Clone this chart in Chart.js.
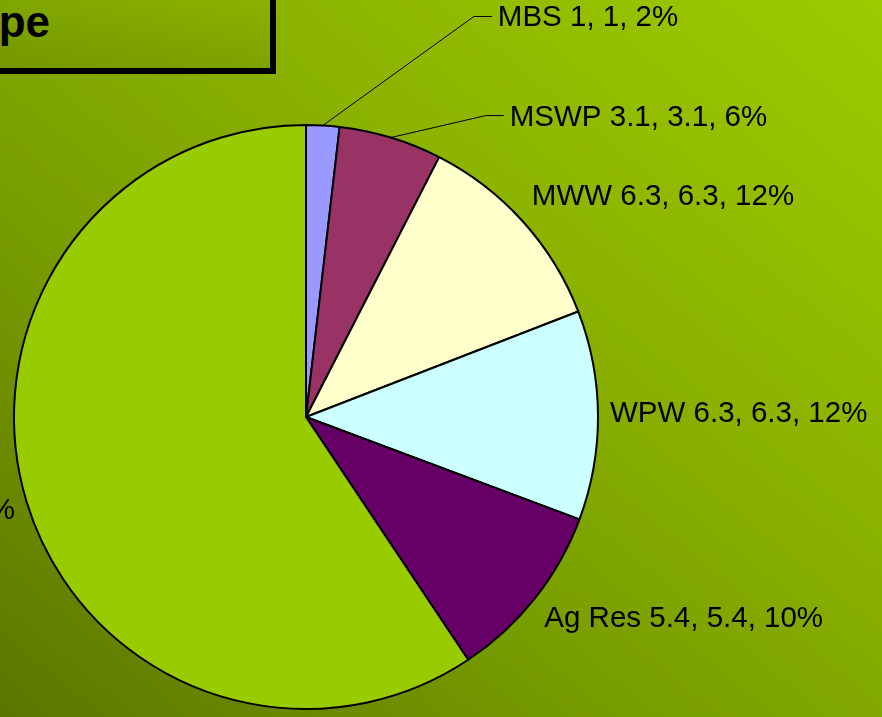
<!DOCTYPE html>
<html>
<head>
<meta charset="utf-8">
<script src="https://cdn.jsdelivr.net/npm/chart.js@4"></script>
<style>
  html, body { margin: 0; padding: 0; }
  body {
    width: 882px; height: 717px; overflow: hidden; position: relative;
    background: linear-gradient(to bottom left, #9ccb00 0%, #8cb400 35%, #779c00 65%, #5b7600 100%);
  }
  #wrap { position: absolute; left: 0; top: 0; width: 882px; height: 717px; }
  #titleBox {
    position: absolute; left: -40px; top: -20px; width: 304px; height: 82px;
    border: 6px solid #000;
    background: linear-gradient(to bottom, rgba(0,0,0,0) 0%, rgba(0,0,0,0.08) 100%);
  }
  #title {
    position: absolute; right: 832px; top: -3px; white-space: nowrap;
    font: bold 44px "Liberation Sans", Arial, sans-serif; color: #000;
  }
</style>
</head>
<body>
<div id="titleBox"></div>
<div id="title">Feedstock by Type</div>
<div id="wrap"><canvas id="pie_chart" width="882" height="717"></canvas></div>
<script>
// 데이터
const labels = ['MBS', 'MSWP', 'MWW', 'WPW', 'Ag Res', 'Forest Res'];
const values = [1, 3.1, 6.3, 6.3, 5.4, 32.3];
const colors = ['#9999FF', '#993366', '#FFFFCC', '#CCFFFF', '#660066', '#99CC00'];

var total = values.reduce(function(a, b) { return a + b; }, 0);

// 라벨 그리기 (Excel 스타일: 이름 값, 값, 퍼센트)
const pieLabels = {
  id: 'pieLabels',
  afterDatasetsDraw: function(chart, args, opts) {
    var ctx = chart.ctx;
    var meta = chart.getDatasetMeta(0);
    ctx.save();
    ctx.font = '29.5px "Liberation Sans", Arial, sans-serif';
    ctx.fillStyle = '#000';
    ctx.strokeStyle = '#000';
    ctx.lineWidth = 1;
    ctx.textBaseline = 'alphabetic';
    meta.data.forEach(function(arc, i) {
      var p = arc.getProps(['x', 'y', 'startAngle', 'endAngle', 'outerRadius'], true);
      var mid = (p.startAngle + p.endAngle) / 2;
      var cos = Math.cos(mid), sin = Math.sin(mid);
      var pct = Math.round(values[i] * 100 / total) + '%';
      var text = labels[i] + ' ' + values[i] + ', ' + values[i] + ', ' + pct;
      var call = opts.callouts[i];
      if (call) {
        // 리더 라인
        var ox = p.x + cos * p.outerRadius, oy = p.y + sin * p.outerRadius;
        var tx = ox + call.dx, ty = oy + call.dy;
        ctx.beginPath();
        ctx.moveTo(ox, oy);
        ctx.lineTo(tx - 24, ty);
        ctx.lineTo(tx - 6, ty);
        ctx.stroke();
        ctx.textAlign = 'left';
        ctx.fillText(text, tx, ty + 10);
      } else {
        var x = p.x + cos * (p.outerRadius + 12);
        var y = p.y + sin * (p.outerRadius + 35);
        ctx.textAlign = cos >= 0 ? 'left' : 'right';
        ctx.fillText(text, x, y + 7);
      }
    });
    ctx.restore();
  }
};

var ctx = document.getElementById('pie_chart').getContext('2d');
var myPieChart = new Chart(ctx, {
  type: 'pie',
  data: {
    labels: labels,
    datasets: [{
      data: values,
      backgroundColor: colors,
      borderColor: '#000',
      borderWidth: 2
    }]
  },
  options: {
    responsive: false,
    animation: false,
    radius: 292,
    layout: { padding: { left: 0, right: 270, top: 125, bottom: 8 } },
    plugins: {
      legend: { display: false },
      tooltip: { enabled: false },
      pieLabels: {
        callouts: {
          0: { dx: 175, dy: -109 },
          1: { dx: 119, dy: -22 }
        }
      }
    }
  },
  plugins: [pieLabels]
});
</script>
</body>
</html>
